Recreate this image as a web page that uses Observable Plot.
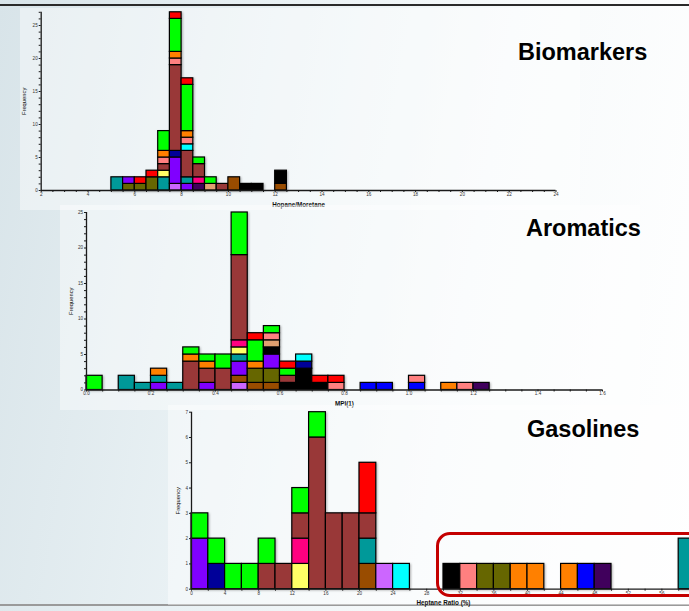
<!DOCTYPE html>
<html>
<head>
<meta charset="utf-8">
<script src="https://cdn.jsdelivr.net/npm/d3@7"></script>
<script src="https://cdn.jsdelivr.net/npm/@observablehq/plot@0.6"></script>
<style>
html,body{margin:0;padding:0;}
body{width:689px;height:611px;overflow:hidden;position:relative;font-family:"Liberation Sans",Arial,sans-serif;
  background:linear-gradient(100deg,#d8e4e9 0%,#e9f1f4 35%,#f7fafb 65%,#ffffff 100%);}
.panel{position:absolute;background:rgba(255,255,255,0.42);}
.panel svg{display:block;overflow:visible;max-width:none !important;height:auto;}
.panel svg g[aria-label="rect"]{filter:drop-shadow(1px 1px 0.8px rgba(0,0,0,0.3));}
.title{position:absolute;font-weight:bold;font-size:23.5px;line-height:1;color:#000;white-space:nowrap;}
#topline{position:absolute;left:0;top:4px;width:689px;height:2px;background:#2a2a2a;}
#botline{position:absolute;left:0;top:604px;width:689px;height:2px;background:#9a9a9a;}
#callout{position:absolute;left:436px;top:532px;width:300px;height:59px;border:3px solid #c40000;border-radius:14px;}
</style>
</head>
<body>
<div id="topline"></div>
<div id="botline"></div>
<div class="panel" id="p1" style="left:20px;top:8px;width:560px;height:202px;"></div>
<div class="panel" id="p2" style="left:60px;top:205px;width:580px;height:205px;"></div>
<div class="panel" id="p3" style="left:168px;top:405px;width:540px;height:200px;"></div>
<div class="title" style="left:518px;top:41px;">Biomarkers</div>
<div class="title" style="left:526px;top:217px;">Aromatics</div>
<div class="title" style="left:527px;top:418px;">Gasolines</div>
<div id="callout"></div>
<script>
// ---- colour categories ----
const colorNames = ["teal","olive","violet","red","yellow","maroon","salmon","orange","green","lavender","navy","cyan","magenta","darkpurple","peach","brown","black","blue"];
const colorHex   = ["#009999","#666600","#8000ff","#ff0000","#ffff66","#993838","#ff8080","#ff8000","#00ff00","#cc66ff","#000099","#00ffff","#ff0080","#40005c","#e0a070","#994c00","#000000","#0000ff"];

// ---- Biomarkers: Hopane/Moretane, bin width 0.5 ----
const bioBinStart = [5, 5.5, 6, 6.5, 7, 7.5, 8, 8.5, 9, 9.5, 10, 10.5, 11, 12];
const bioStacks = [
  [["teal",2]],
  [["olive",1],["violet",1]],
  [["olive",1],["red",1]],
  [["olive",2],["red",1]],
  [["teal",2],["yellow",1],["maroon",1],["salmon",1],["orange",1],["green",3]],
  [["lavender",1],["violet",4],["navy",1],["maroon",13],["salmon",1],["orange",1],["green",5],["red",1]],
  [["violet",1],["teal",1],["maroon",4],["cyan",1],["salmon",1],["orange",1],["green",7],["red",1]],
  [["darkpurple",1],["magenta",1],["maroon",2],["green",1]],
  [["peach",1],["green",1]],
  [["maroon",1]],
  [["brown",2]],
  [["black",1]],
  [["black",1]],
  [["brown",1],["black",2]]
];
const bioXTicks = [2,4,6,8,10,12,14,16,18,20,22,24];
const bioYTicks = [0,5,10,15,20,25];

// ---- Aromatics: MPI(1), bin width 0.05 ----
const aroBinStart = [0.00, 0.10, 0.15, 0.20, 0.25, 0.30, 0.35, 0.40, 0.45, 0.50, 0.55, 0.60, 0.65, 0.70, 0.75, 0.85, 0.90, 1.00, 1.10, 1.15, 1.20];
const aroStacks = [
  [["green",2]],
  [["teal",2]],
  [["teal",1]],
  [["violet",1],["teal",1],["orange",1]],
  [["teal",1]],
  [["maroon",4],["orange",1],["green",1]],
  [["violet",1],["maroon",2],["orange",1],["green",1]],
  [["maroon",3],["green",2]],
  [["lavender",1],["brown",1],["violet",2],["teal",1],["yellow",1],["magenta",1],["maroon",12],["green",6]],
  [["brown",1],["olive",2],["orange",1],["green",3],["red",1]],
  [["brown",1],["olive",2],["violet",2],["black",1],["peach",1],["salmon",1],["green",1]],
  [["black",1],["maroon",1],["green",1],["red",1]],
  [["black",3],["navy",1],["cyan",1]],
  [["black",1],["red",1]],
  [["salmon",1],["red",1]],
  [["blue",1]],
  [["blue",1]],
  [["blue",1],["salmon",1]],
  [["orange",1]],
  [["salmon",1]],
  [["darkpurple",1]]
];
const aroXTicks = [0,0.2,0.4,0.6,0.8,1.0,1.2,1.4,1.6];
const aroYTicks = [0,5,10,15,20,25];

// ---- Gasolines: Heptane Ratio (%), bin width 2 ----
const gasBinStart = [0, 2, 4, 6, 8, 10, 12, 14, 16, 18, 20, 22, 24, 30, 32, 34, 36, 38, 40, 44, 46, 48, 58];
const gasStacks = [
  [["violet",2],["green",1]],
  [["navy",1],["green",1]],
  [["green",1]],
  [["green",1]],
  [["maroon",1],["green",1]],
  [["maroon",1]],
  [["yellow",1],["magenta",1],["maroon",1],["green",1]],
  [["maroon",6],["green",1]],
  [["maroon",3]],
  [["maroon",3]],
  [["brown",1],["teal",1],["maroon",1],["red",2]],
  [["lavender",1]],
  [["cyan",1]],
  [["black",1]],
  [["salmon",1]],
  [["olive",1]],
  [["olive",1]],
  [["orange",1]],
  [["orange",1]],
  [["orange",1]],
  [["blue",1]],
  [["darkpurple",1]],
  [["teal",2]]
];
const gasXTicks = [0,4,8,12,16,20,24,28,32,36,40,44,48,52,56];
const gasYTicks = [0,1,2,3,4,5,6,7];

function rowsOf(binStart, stacks, binW) {
  const rows = [];
  binStart.forEach((b, i) => stacks[i].forEach(([g, n]) => rows.push({x1: b, x2: +(b + binW).toFixed(4), group: g, n})));
  return rows;
}

function panel(o) {
  const rows = rowsOf(o.bins, o.stacks, o.binW);
  return Plot.plot({
    width: o.width, height: o.height,
    marginLeft: o.ml, marginRight: o.mr, marginTop: o.mt, marginBottom: o.mb,
    x: {domain: o.xDomain},
    y: {domain: o.yDomain},
    color: {domain: colorNames, range: colorHex},
    style: {background: "transparent", overflow: "visible", fontFamily: "Liberation Sans, Arial, sans-serif"},
    marks: [
      Plot.rectY(rows, {x1: "x1", x2: "x2", y: "n", fill: "group", stroke: "#000", strokeWidth: 1.2}),
      Plot.ruleY([o.yDomain[0]], {stroke: "#1a1a1a", strokeWidth: 1.3}),
      Plot.ruleX([o.xDomain[0]], {y1: o.yDomain[0], y2: o.yDomain[1], stroke: "#1a1a1a", strokeWidth: 1.3}),
      Plot.axisX(o.xMinor, {tickSize: 2, fill: "none", label: null, stroke: "#1a1a1a"}),
      Plot.axisX(o.xTicks, {tickSize: 0, tickPadding: 2.2, fontSize: 4.6, fill: "#333", tickFormat: o.xFmt, label: null}),
      Plot.axisY(o.yMinor, {tickSize: 2, fill: "none", label: null, stroke: "#1a1a1a"}),
      Plot.axisY(o.yTicks, {tickSize: 0, tickPadding: 3.5, fontSize: 4.6, fill: "#333", label: null}),
      Plot.text(["Frequency"], {frameAnchor: "left", dx: o.yLabDx, rotate: -90, textAnchor: "middle", lineAnchor: "middle", fontSize: 5.8, fill: "#111"}),
      Plot.text([o.xLabel], {frameAnchor: "bottom", dy: o.xLabDy, textAnchor: "middle", lineAnchor: "middle", fontSize: 6.3, fontWeight: "bold", fill: "#111"})
    ]
  });
}

document.getElementById("p1").append(panel({
  bins: bioBinStart, stacks: bioStacks, binW: 0.5,
  width: 560, height: 202, ml: 20.7, mr: 24.5, mt: 3.8, mb: 20,
  xDomain: [2, 24], yDomain: [0, 27],
  xTicks: bioXTicks, xMinor: d3.range(2, 24.01, 0.5), xFmt: d3.format("d"),
  yTicks: bioYTicks, yMinor: d3.range(0, 27.01, 1),
  yLabDx: -17, xLabel: "Hopane/Moretane", xLabDy: 14
}));

document.getElementById("p2").append(panel({
  bins: aroBinStart, stacks: aroStacks, binW: 0.05,
  width: 580, height: 205, ml: 26, mr: 38, mt: 7, mb: 20.5,
  xDomain: [0, 1.6], yDomain: [0, 25],
  xTicks: aroXTicks, xMinor: d3.range(0, 32.01, 1).map(d => d * 0.05), xFmt: d3.format(".1f"),
  yTicks: aroYTicks, yMinor: d3.range(0, 25.01, 1),
  yLabDx: -15, xLabel: "MPI(1)", xLabDy: 13.5
}));

document.getElementById("p3").append(panel({
  bins: gasBinStart, stacks: gasStacks, binW: 2,
  width: 540, height: 200, ml: 23, mr: 13, mt: 6.7, mb: 16.3,
  xDomain: [0, 60], yDomain: [0, 7],
  xTicks: gasXTicks, xMinor: d3.range(0, 60.01, 2), xFmt: d3.format("d"),
  yTicks: gasYTicks, yMinor: gasYTicks,
  yLabDx: -13, xLabel: "Heptane Ratio (%)", xLabDy: 14
}));
</script>
</body>
</html>
